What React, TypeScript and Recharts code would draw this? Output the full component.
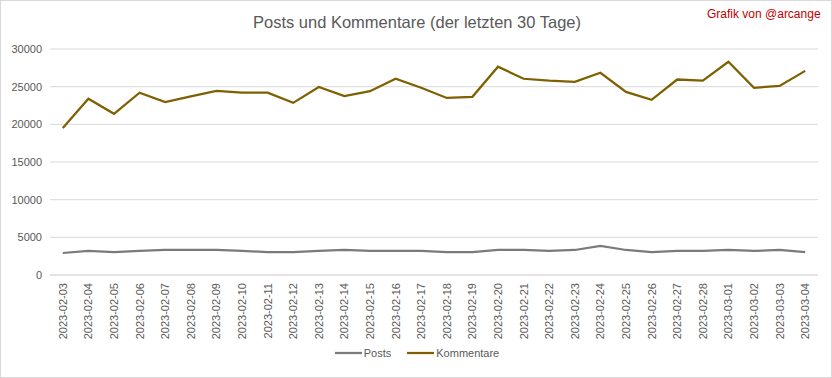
import { LineChart, Line, XAxis, YAxis, CartesianGrid, Legend } from 'recharts'

const days = [
  '2023-02-03', '2023-02-04', '2023-02-05', '2023-02-06', '2023-02-07', '2023-02-08',
  '2023-02-09', '2023-02-10', '2023-02-11', '2023-02-12', '2023-02-13', '2023-02-14',
  '2023-02-15', '2023-02-16', '2023-02-17', '2023-02-18', '2023-02-19', '2023-02-20',
  '2023-02-21', '2023-02-22', '2023-02-23', '2023-02-24', '2023-02-25', '2023-02-26',
  '2023-02-27', '2023-02-28', '2023-03-01', '2023-03-02', '2023-03-03', '2023-03-04',
]

const posts = [
  2920, 3190, 3050, 3190, 3320, 3320, 3320, 3190, 3050, 3050,
  3190, 3320, 3190, 3190, 3190, 3050, 3050, 3320, 3320, 3190,
  3320, 3850, 3320, 3050, 3190, 3190, 3320, 3190, 3320, 3050,
]

const kommentare = [
  19500, 23400, 21400, 24200, 22950, 23700, 24450, 24200, 24200, 22850,
  24950, 23750, 24400, 26050, 24850, 23500, 23650, 27650, 26050, 25800,
  25650, 26850, 24300, 23250, 25950, 25800, 28300, 24850, 25100, 27100,
]

const yTicks = [0, 5000, 10000, 15000, 20000, 25000, 30000]

const data = days.map((day, i) => ({ day, posts: posts[i], kommentare: kommentare[i] }))

const FONT = '"Liberation Sans", Arial, sans-serif'
const TEXT = '#595959'
const GRID = '#d9d9d9'

function DayTick({ x, y, payload }: any) {
  return (
    <text
      x={x}
      y={y}
      transform={`rotate(-90 ${x} ${y})`}
      textAnchor="end"
      dominantBaseline="central"
      fontSize={11}
      fontFamily={FONT}
      fill={TEXT}
    >
      {payload.value}
    </text>
  )
}

function LegendContent() {
  const items = [
    { name: 'Posts', color: '#7a7a7a' },
    { name: 'Kommentare', color: '#7f6000' },
  ]
  return (
    <div
      style={{
        display: 'flex',
        justifyContent: 'center',
        gap: 16,
        paddingLeft: 16,
        fontFamily: FONT,
        fontSize: 11,
        color: TEXT,
      }}
    >
      {items.map((it) => (
        <div key={it.name} style={{ display: 'flex', alignItems: 'center', gap: 2 }}>
          <svg width={27} height={10}>
            <line x1={0} x2={27} y1={5} y2={5} stroke={it.color} strokeWidth={2.25} />
          </svg>
          <span>{it.name}</span>
        </div>
      ))}
    </div>
  )
}

export default function App() {
  return (
    <div
      style={{
        position: 'absolute',
        left: 0,
        top: 0,
        width: 832,
        height: 378,
        background: '#fff',
        border: `1px solid ${GRID}`,
        boxSizing: 'border-box',
      }}
    >
      <div
        style={{
          position: 'absolute',
          top: 12,
          left: 0,
          width: 832,
          textAlign: 'center',
          fontFamily: FONT,
          fontSize: 16.5,
          color: TEXT,
        }}
      >
        Posts und Kommentare (der letzten 30 Tage)
      </div>
      <div
        style={{
          position: 'absolute',
          top: 6,
          left: 706,
          fontFamily: FONT,
          fontSize: 12,
          color: '#c00000',
          whiteSpace: 'nowrap',
        }}
      >
        Grafik von @arcange
      </div>
      <div style={{ position: 'absolute', left: -1, top: -1 }}>
        <LineChart width={832} height={378} data={data} margin={{ top: 49, right: 14, bottom: 11, left: 0 }}>
          <CartesianGrid vertical={false} stroke={GRID} />
          <XAxis
            dataKey="day"
            interval={0}
            height={72}
            tick={<DayTick />}
            tickLine={false}
            axisLine={{ stroke: GRID }}
            padding={{ left: 12.8, right: 12.8 }}
          />
          <YAxis
            domain={[0, 30000]}
            ticks={yTicks}
            width={50}
            axisLine={false}
            tickLine={false}
            tick={{ fontSize: 11, fill: TEXT, fontFamily: FONT }}
          />
          <Legend verticalAlign="bottom" height={20} content={<LegendContent />} />
          <Line
            type="linear"
            dataKey="posts"
            name="Posts"
            stroke="#7a7a7a"
            strokeWidth={2.25}
            dot={false}
            isAnimationActive={false}
          />
          <Line
            type="linear"
            dataKey="kommentare"
            name="Kommentare"
            stroke="#7f6000"
            strokeWidth={2.25}
            dot={false}
            isAnimationActive={false}
          />
        </LineChart>
      </div>
    </div>
  )
}
